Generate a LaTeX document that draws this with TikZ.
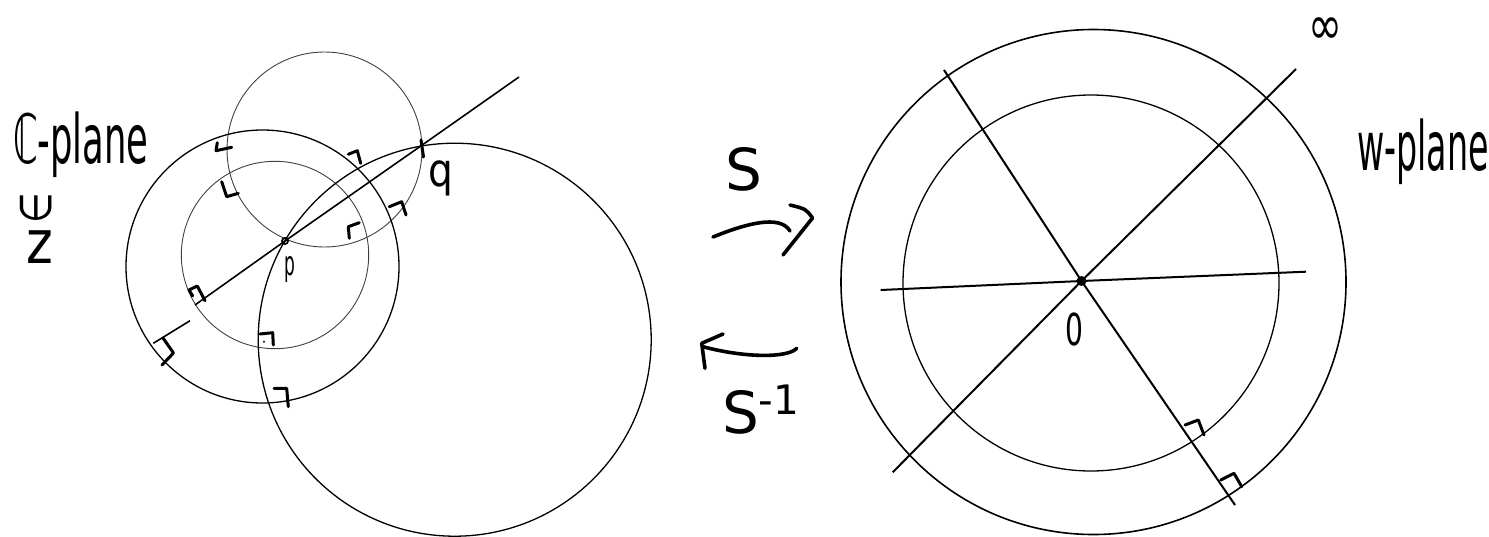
\documentclass[tikz,border=0pt]{standalone}
\usepackage{graphicx}
\usepackage{fontspec}
\setmainfont{DejaVu Sans}
\usetikzlibrary{arrows.meta,positioning}

\begin{document}
\begin{tikzpicture}[
  x=0.5pt,y=-0.5pt,
  faint/.style={draw=black!75,line width=0.45pt},
  ring/.style={draw=black,line width=0.65pt},
  bold ring/.style={draw=black,line width=0.8pt},
  ray/.style={draw=black,line width=0.8pt},
  axis/.style={draw=black,line width=1pt},
  tick/.style={draw=black,line width=1.5pt,line cap=round,line join=round},
  ink/.style={draw=black,line width=1.8pt,line cap=round,line join=round},
  hand/.style={inner sep=0pt,outer sep=0pt,font=\fontsize{#1}{#1}\selectfont}
]
  \useasboundingbox (0,0) rectangle (1489,536);

  % z-plane
  \node[hand=34,anchor=base west] (cplane) at (13,163) {\scalebox{0.52}[1]{ℂ-plane}};
  \node[hand=22,rotate=90] (elem) at (36,208.5) {\scalebox{0.8}[1]{∈}};
  \node[hand=30] (zvar) at (40,247.5) {\scalebox{0.85}[1]{z}};

  \draw[faint] (324.5,149.5) circle[radius=97.5];
  \draw[faint] (275,255) circle[radius=93.7];
  \draw[ring] (262.5,266.5) circle[radius=136.5];
  \draw[ring] (454.7,339.7) circle[radius=196.5];

  \node[circle,draw,line width=0.9pt,inner sep=0pt,minimum size=3pt] (p) at (285,241) {};
  \coordinate (q) at (421.5,145.5);
  \coordinate (lineA) at (195,305);
  \coordinate (lineB) at (519,77);
  \draw[ray] (lineA) -- (p.center) -- (q) -- (lineB);
  \draw[ray] (153.3,343.3) -- (190,320.7);
  \draw[tick] (421,140) -- (423.5,157);

  \node[hand=17] (plabel) at (290,270) {\scalebox{0.5}[1]{p}};
  \node[hand=23] (qlabel) at (441,178) {\scalebox{0.85}[1]{q}};

  \draw[tick] (217.3,142.7) -- (216,150.7) -- (231.7,147.3);
  \draw[tick] (221.7,181.7) -- (226.7,196.7) -- (238.3,193.3);
  \draw[tick] (348.3,154.3) -- (357.3,150.7) -- (360.7,163.3);
  \draw[tick] (389.3,206.7) -- (401.7,201.7) -- (406,215);
  \draw[tick] (349.3,238.3) -- (348.3,226.7) -- (359.3,222.7);
  \draw[tick] (192.7,296) -- (189,290) -- (197.3,286) -- (205,300.7);
  \draw[tick] (163,338) -- (173.5,353) -- (162,365);
  \draw[tick] (260,334) -- (272.7,332.7) -- (273.3,345);
  \fill (264,341.7) circle[radius=1.2];
  \draw[tick] (274,388.3) -- (286.7,388.3) -- (288.3,406.7);

  % maps
  \node[hand=29,anchor=base west] (smap) at (725,190) {S};
  \coordinate (fwdtail) at (713,237);
  \coordinate (fwdend) at (790,231);
  \draw[ink] (fwdtail) .. controls (745,224) and (780,214) .. (fwdend);
  \draw[ink] (790,205) .. controls (806,209) .. (812.5,218) -- (783,255);

  \coordinate (backtail) at (796.7,348.3);
  \coordinate (backend) at (703,346.7);
  \draw[ink] (backtail) .. controls (788,358) and (745,358) .. (backend);
  \draw[ink] (723,334) -- (701.7,343.3) -- (705,368.3);
  \node[hand=29,anchor=base west] (sinv) at (722,433) {S\textsuperscript{-1}};

  % w-plane
  \draw[bold ring] (1093.5,282) circle[radius=252.5];
  \draw[ring] (1091,283) circle[radius=188];

  \node[circle,fill,inner sep=0pt,minimum size=5pt] (O) at (1081.5,281) {};
  \coordinate (hA) at (880.7,290);
  \coordinate (hB) at (1306,271.7);
  \coordinate (dA) at (892.7,472.3);
  \coordinate (dB) at (1296,69);
  \coordinate (eA) at (944,70);
  \coordinate (eB) at (1235,505);
  \draw[axis] (hA) -- (O.center) -- (hB);
  \draw[axis] (dA) -- (O.center) -- (dB);
  \draw[axis] (eA) -- (O.center) -- (eB);

  \draw[tick] (1185,425) -- (1198.3,420) -- (1204,435);
  \draw[tick] (1220.7,480) -- (1234,473.3) -- (1241.7,486.7);

  \node[hand=22] (zero) at (1074,329) {\scalebox{0.64}[1]{0}};
  \node[hand=24,anchor=center] (infty) at (1325,31) {\scalebox{0.85}[1.15]{∞}};
  \node[hand=34,anchor=base west] (wplane) at (1357,170) {\scalebox{0.49}[1]{w-plane}};
\end{tikzpicture}
\end{document}
